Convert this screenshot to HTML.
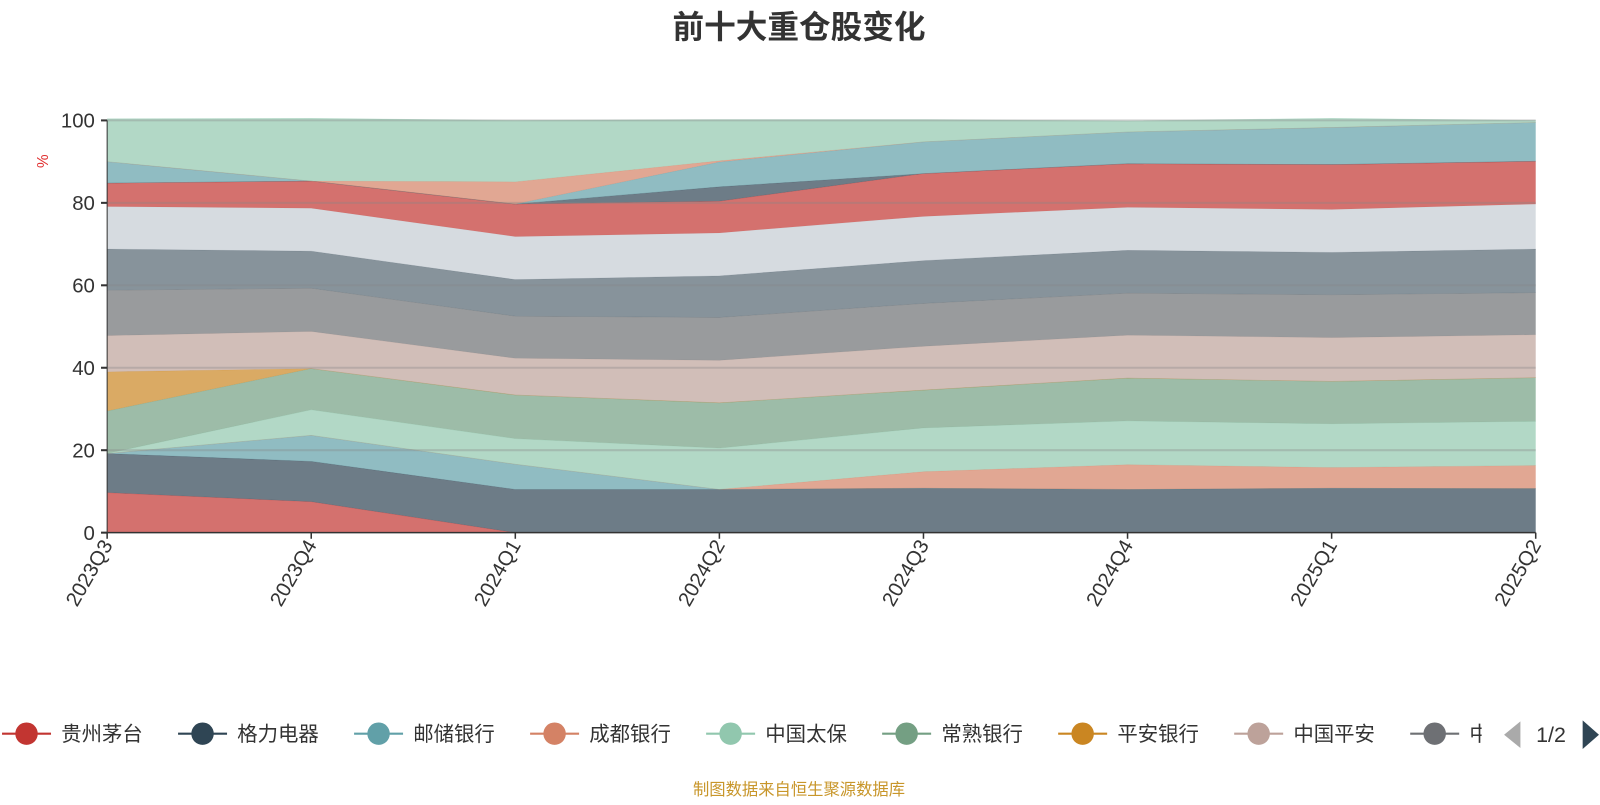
<!DOCTYPE html>
<html><head><meta charset="utf-8"><style>
html,body{margin:0;padding:0;background:#fff;}
body{width:1600px;height:800px;overflow:hidden;font-family:"Liberation Sans","Noto Sans CJK SC",sans-serif;}
svg text{font-family:"Liberation Sans","Noto Sans CJK SC",sans-serif;}
</style></head><body>
<svg id="chart" width="1600" height="800" viewBox="0 0 1568 784" xmlns="http://www.w3.org/2000/svg">
<text x="783" y="37" text-anchor="middle" font-size="31" font-weight="bold" fill="#333">前十大重仓股变化</text>
<text x="0" y="0" transform="translate(47,158) rotate(-90)" text-anchor="middle" font-size="15" fill="#e03030">%</text>
<g id="areas"></g>
<g id="grid"></g>
<g id="axes"></g>
<g id="legend"></g>
<text x="783" y="779" text-anchor="middle" font-size="16" fill="#c8962a">制图数据来自恒生聚源数据库</text>
</svg>
<script>
const categories = ["2023Q3","2023Q4","2024Q1","2024Q2","2024Q3","2024Q4","2025Q1","2025Q2"];
const seriesNames = ["贵州茅台","格力电器","邮储银行","成都银行","中国太保","常熟银行","平安银行","中国平安","中国移动","招商银行","美的集团","五粮液","宁德时代","工商银行","泸州老窖","长江电力"];
const yTicks = [0,20,40,60,80,100];
const s1 = [9.7,7.5,0,0,0,0,0,0];
const s2 = [9.5,9.8,10.5,10.5,10.8,10.5,10.8,10.7];
const s3 = [0,6.3,6.1,0,0,0,0,0];
const s4 = [0,0,0,0,4,6,5,5.6];
const s5 = [0,6.2,6.2,10,10.6,10.6,10.6,10.7];
const s6 = [10.3,10,10.6,11,9.2,10.4,10.3,10.6];
const s7 = [9.5,0,0,0,0,0,0,0];
const s8 = [8.8,9,8.9,10.3,10.6,10.4,10.6,10.4];
const s9 = [11,10.5,10.2,10.4,10.4,10.2,10.4,10.2];
const s10 = [10,9,8.9,10.1,10.4,10.4,10.3,10.6];
const s11 = [10.3,10.4,10.4,10.4,10.7,10.4,10.4,10.9];
const s12 = [5.7,6.6,7.9,7.7,10.4,10.6,10.9,10.4];
const s13 = [0,0,0,3.5,0,0,0,0];
const s14 = [5.2,0,0,6,7.7,7.7,9,9.4];
const s15 = [0,0,5.4,0.3,0,0,0,0];
const s16 = [10.4,15.2,14.9,10,5.4,2.7,2.2,0.5];
const seriesValues = [s1,s2,s3,s4,s5,s6,s7,s8,s9,s10,s11,s12,s13,s14,s15,s16];
const palette = ['#c23531','#2f4554','#61a0a8','#d48265','#91c7ae','#749f83','#ca8622','#bda29a','#6e7074','#546570','#c4ccd3'];

const NS="http://www.w3.org/2000/svg";
const X0=105,X1=1505,Y0=522,Y1=118;
const xScale=i=>X0+i*(X1-X0)/(categories.length-1);
const yScale=v=>Y0-(v/100)*(Y0-Y1);
function mk(tag,attrs,parent){const e=document.createElementNS(NS,tag);for(const k in attrs)e.setAttribute(k,attrs[k]);parent.appendChild(e);return e;}

const areas=document.getElementById('areas');
let base=categories.map(()=>0);
seriesValues.forEach((vals,si)=>{
  const top=base.map((b,i)=>b+vals[i]);
  let d='M'+top.map((t,i)=>xScale(i)+','+yScale(t)).join(' L');
  for(let i=categories.length-1;i>=0;i--) d+=' L'+xScale(i)+','+yScale(base[i]);
  d+=' Z';
  const col=palette[si%palette.length];
  const p=mk('path',{d:d,fill:col,'fill-opacity':0.7,stroke:'none'},areas);
  
  
  const l=mk('path',{d:'M'+top.map((t,i)=>xScale(i)+','+yScale(t)).join(' L'),fill:'none',stroke:col,'stroke-width':0.6,'stroke-opacity':0.4},areas);
  
  
  base=top;
});

const grid=document.getElementById('grid');
yTicks.forEach(t=>{
  if(t===0)return;
  const g=mk('line',{x1:X0,x2:X1,y1:yScale(t),y2:yScale(t),stroke:'#888','stroke-opacity':0.35,'stroke-width':2},grid);
  
  
});

const axes=document.getElementById('axes');
mk('line',{x1:X0,x2:X0,y1:Y1,y2:Y0,stroke:'#333','stroke-width':1},axes);
mk('line',{x1:X0,x2:X1,y1:Y0,y2:Y0,stroke:'#333','stroke-width':1.5},axes);
yTicks.forEach(t=>{
  mk('line',{x1:X0-6,x2:X0,y1:yScale(t),y2:yScale(t),stroke:'#333','stroke-width':2},axes);
  const tx=mk('text',{x:X0-12,y:yScale(t)+7,'text-anchor':'end','font-size':20,fill:'#333'},axes);
  tx.textContent=t;
  
  
});
categories.forEach((c,i)=>{
  const x=xScale(i);
  mk('line',{x1:x,x2:x,y1:Y0,y2:Y0+6,stroke:'#333','stroke-width':1.5},axes);
  const tx=mk('text',{x:0,y:0,transform:`translate(${x+6},${Y0+12}) rotate(-60)`,'text-anchor':'end','font-size':20,fill:'#333'},axes);
  tx.textContent=c;
  
  
});

const legend=document.getElementById('legend');
const clip=mk('clipPath',{id:'legclip'},legend);
mk('rect',{x:0,y:690,width:1452,height:60},clip);
const lg=mk('g',{'clip-path':'url(#legclip)'},legend);
for(let i=0;i<9;i++){
  const x0=2+i*172.5;
  const col=palette[i];
  const item=mk('g',{},lg);
  
  
  mk('line',{x1:x0,x2:x0+48,y1:719,y2:719,stroke:col,'stroke-width':2},item);
  mk('circle',{cx:x0+24,cy:719,r:11,fill:col},item);
  const t=mk('text',{x:x0+58,y:726,'font-size':20,fill:'#333'},item);
  t.textContent=seriesNames[i];
}
const prev=mk('path',{d:'M1490,707 L1490,733 L1474,720 Z',fill:'#aaa'},legend);


const pg=mk('text',{x:1520,y:727,'text-anchor':'middle','font-size':21,fill:'#333'},legend);
pg.textContent='1/2';


const next=mk('path',{d:'M1551,706 L1551,734 L1567,720 Z',fill:'#2f4554'},legend);


</script>
</body></html>
